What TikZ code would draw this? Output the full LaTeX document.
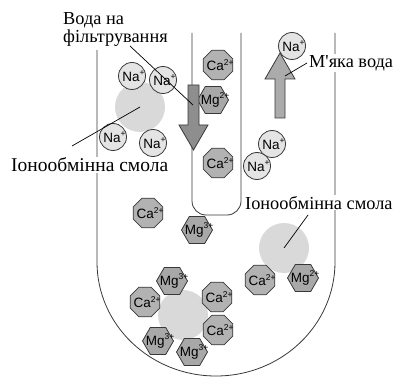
\documentclass[tikz,border=0pt]{standalone}
\usepackage{fontspec}
\setmainfont{Liberation Serif}
\newfontfamily\capfont{Liberation Serif}
\newfontfamily\ionfont{Liberation Sans}
\usetikzlibrary{shapes.geometric}

\definecolor{ink}{HTML}{383838}
\definecolor{beadgray}{HTML}{D9D9D9}
\definecolor{nagray}{HTML}{E4E4E4}
\definecolor{cagray}{HTML}{B2B2B2}
\definecolor{mggray}{HTML}{A8A8A8}
\definecolor{downgray}{HTML}{8E8E8E}
\definecolor{upgray}{HTML}{ABABAB}

% small raised charge
\newcommand\ionsup[1]{\raisebox{0.42em}{\fontsize{8.5}{8.5}\selectfont #1}}

\tikzset{
  wall/.style={draw=ink, line width=0.8pt},
  bead/.style={circle, fill=beadgray, minimum size=50pt, inner sep=0pt},
  ionlbl/.style={font=\ionfont\fontsize{13.5}{13.5}\selectfont, inner sep=0pt, text=black},
  naion/.style={circle, draw=ink, line width=0.8pt, fill=nagray, minimum size=27pt, inner sep=0pt},
  caion/.style={regular polygon, regular polygon sides=8, draw=ink, line width=0.8pt, fill=cagray, minimum size=32pt, inner sep=0pt},
  mgion/.style={regular polygon, regular polygon sides=6, draw=ink, line width=0.8pt, fill=mggray, minimum size=31pt, inner sep=0pt},
  caption/.style={font=\capfont\fontsize{18.3}{18.3}\selectfont, anchor=base west, inner sep=1pt, fill=white},
  leader/.style={draw=black, line width=0.7pt},
  flowarrow/.style={draw=ink, line width=0.8pt},
}

\newcommand\naat[2]{\node[naion, label={[ionlbl, xshift=1.5pt]center:Na\ionsup{+}}] (#1) at (#2) {};}
\newcommand\caat[2]{\node[caion, label={[ionlbl, xshift=2pt]center:Ca\ionsup{2+}}] (#1) at (#2) {};}
\newcommand\mgat[3]{\node[mgion, label={[ionlbl, xshift=2pt]center:Mg\ionsup{#3}}] (#1) at (#2) {};}

\begin{document}
\begin{tikzpicture}[x=1pt, y=-1pt]
  \useasboundingbox (0,0) rectangle (395,379);

  % outer vessel and inner tube
  \draw[wall] (97,50) -- (97,262) arc[start angle=180, end angle=0, x radius=119, y radius=114] -- (335,33);
  \draw[wall, rounded corners=14pt] (192,33) -- (192,215) -- (241,215) -- (241,33);

  % resin beads
  \node[bead] (beadL) at (140,107) {};
  \node[bead] (beadR) at (284,248) {};
  \node[bead] (beadB) at (183,315) {};

  % sodium ions
  \naat{na1}{132,76}
  \naat{na2}{163,80}
  \naat{na3}{113,137}
  \naat{na4}{153,143}
  \naat{na5}{292,46}
  \naat{na6}{272,144}
  \naat{na7}{257,166}

  % calcium ions
  \caat{ca1}{218,65}
  \caat{ca2}{218,163}
  \caat{ca3}{148,213}
  \caat{ca4}{145,302}
  \caat{ca5}{260,280}
  \caat{ca6}{217,297}
  \caat{ca7}{218,330}

  % magnesium ions
  \mgat{mg1}{213,100}{2+}
  \mgat{mg2}{197,230}{3+}
  \mgat{mg3}{172,281}{3+}
  \mgat{mg4}{158,341}{3+}
  \mgat{mg5}{192,352}{3+}
  \mgat{mg6}{303,278}{2+}

  % flow arrows
  \draw[flowarrow, fill=downgray] (188,85) -- (199,85) -- (199,125) -- (208,125) -- (193.5,150)
        -- (179,125) -- (188,125) -- cycle;
  \draw[flowarrow, fill=upgray] (275,118) -- (285,118) -- (285,79) -- (295,79) -- (280,53)
        -- (265,79) -- (275,79) -- cycle;

  % captions
  \node[caption] (capIn1) at (62,25) {Вода на};
  \node[caption] (capIn2) at (62,42.7) {фільтрування};
  \node[caption] (capOut) at (308,67.3) {М\textquotesingle яка вода};
  \node[caption, font=\capfont\fontsize{19.5}{19.5}\selectfont] (capResL) at (10,171.7) {Іонообмінна смола};
  \node[caption] (capResR) at (244,209.3) {Іонообмінна смола};

  % leader lines
  \coordinate (inStart) at (130,46);
  \coordinate (inEnd) at (193,105);
  \coordinate (outStart) at (307,63);
  \coordinate (outEnd) at (285,76);
  \coordinate (resLStart) at (72,146);
  \coordinate (resRStart) at (308,215);
  \draw[leader] (inStart) -- (inEnd);
  \draw[leader] (outStart) -- (outEnd);
  \draw[leader] (resLStart) -- (beadL.center);
  \draw[leader] (resRStart) -- (beadR.center);
\end{tikzpicture}
\end{document}
